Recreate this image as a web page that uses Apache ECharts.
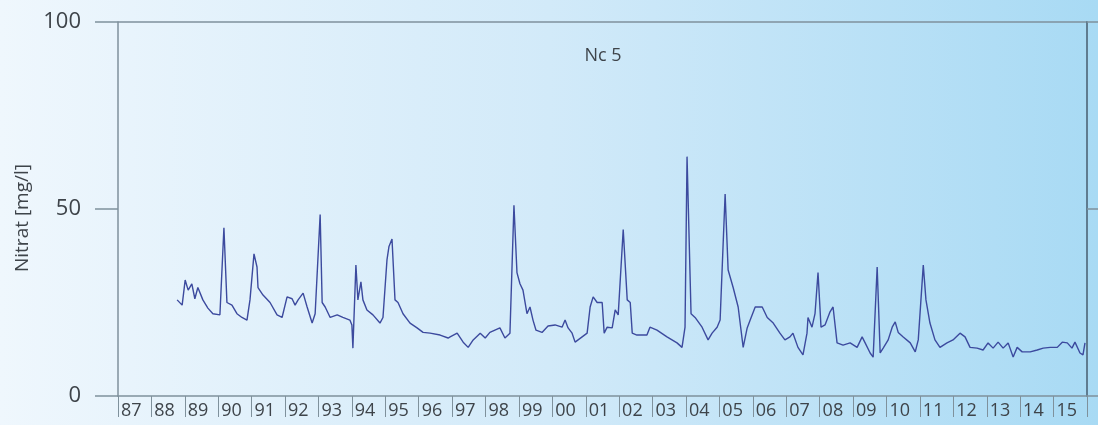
<!DOCTYPE html>
<html>
<head>
<meta charset="utf-8">
<script src="https://cdn.jsdelivr.net/npm/echarts@6/dist/echarts.min.js"></script>
<style>
  html, body { margin: 0; padding: 0; }
  #chart { width: 1098px; height: 425px; }
</style>
</head>
<body>
<div id="chart"></div>
<script>
// Measuring point and axis texts
const stationName = 'Nc 5';
const yAxisTitle = 'Nitrat [mg/l]';
const yearLabels = ['87','88','89','90','91','92','93','94','95','96','97','98','99','00','01',
                    '02','03','04','05','06','07','08','09','10','11','12','13','14','15'];

// Sampling dates as decimal years
const sampleDates = [
  1988.77,1988.92,1989.01,1989.10,1989.21,1989.30,1989.39,1989.54,1989.69,1989.84,
  1990.05,1990.17,1990.26,1990.41,1990.56,1990.71,1990.86,1990.95,1991.07,1991.16,
  1991.19,1991.34,1991.55,1991.76,1991.91,1992.06,1992.21,1992.30,1992.39,1992.54,
  1992.66,1992.81,1992.90,1993.05,1993.11,1993.20,1993.35,1993.56,1993.73,1993.94,
  1994.00,1994.03,1994.12,1994.18,1994.27,1994.33,1994.45,1994.63,1994.84,1994.93,
  1995.05,1995.11,1995.20,1995.29,1995.38,1995.53,1995.74,1995.95,1996.13,1996.34,
  1996.64,1996.88,1996.94,1997.15,1997.33,1997.48,1997.63,1997.84,1997.99,1998.13,
  1998.28,1998.43,1998.58,1998.73,1998.85,1998.94,1999.03,1999.12,1999.24,1999.33,
  1999.42,1999.51,1999.69,1999.87,2000.08,2000.29,2000.38,2000.47,2000.59,2000.68,
  2000.89,2001.04,2001.13,2001.22,2001.34,2001.49,2001.55,2001.64,2001.79,2001.88,
  2001.97,2002.12,2002.24,2002.33,2002.39,2002.53,2002.83,2002.92,2003.13,2003.43,
  2003.73,2003.88,2003.97,2004.03,2004.15,2004.27,2004.48,2004.66,2004.78,2004.93,
  2005.02,2005.17,2005.26,2005.41,2005.56,2005.71,2005.83,2005.92,2006.07,2006.28,
  2006.43,2006.61,2006.81,2006.96,2007.11,2007.20,2007.35,2007.50,2007.62,2007.65,
  2007.77,2007.86,2007.95,2008.04,2008.16,2008.31,2008.40,2008.52,2008.70,2008.91,
  2009.12,2009.27,2009.36,2009.51,2009.60,2009.72,2009.81,2009.90,2010.05,2010.17,
  2010.26,2010.35,2010.50,2010.71,2010.86,2010.95,2011.10,2011.18,2011.30,2011.45,
  2011.60,2011.81,2011.99,2012.20,2012.35,2012.50,2012.71,2012.89,2013.04,2013.19,
  2013.34,2013.49,2013.64,2013.79,2013.91,2014.06,2014.30,2014.51,2014.69,2014.90,
  2015.11,2015.26,2015.41,2015.55,2015.64,2015.79,2015.88,2015.94
];

// Nitrate concentration in mg/l
const nitrateValues = [
  25.7,24.3,31.0,28.3,30.0,26.0,29.0,25.7,23.5,22.0,
  21.7,45.0,25.0,24.3,22.0,21.0,20.3,25.7,38.0,34.5,
  29.0,27.0,25.0,21.7,21.0,26.5,26.0,24.3,25.7,27.5,
  23.8,19.5,22.0,48.5,25.0,23.8,21.0,21.7,21.0,20.3,
  19.0,12.8,35.0,25.7,30.5,25.7,23.0,21.7,19.5,21.0,
  36.4,40.0,42.0,25.7,25.0,22.0,19.5,18.2,17.0,16.8,
  16.3,15.5,15.8,16.8,14.4,13.0,15.0,16.8,15.5,17.0,
  17.6,18.2,15.5,16.8,51.0,33.0,30.0,28.3,22.0,23.8,
  20.3,17.6,17.0,18.7,19.0,18.4,20.3,18.2,16.8,14.4,
  15.8,16.8,23.8,26.5,25.0,25.0,16.8,18.4,18.2,23.0,
  21.7,44.5,25.7,25.0,16.8,16.3,16.3,18.4,17.6,15.8,
  14.2,13.0,18.4,64.0,22.0,21.0,18.4,15.0,16.8,18.4,
  20.3,54.0,33.7,29.0,23.8,13.0,18.2,20.3,23.8,23.8,
  21.0,19.5,16.8,15.0,15.8,16.8,13.0,11.0,16.8,21.0,
  18.4,22.0,33.0,18.4,19.0,22.5,23.8,14.2,13.6,14.2,
  13.0,15.8,14.2,11.5,10.4,34.5,11.5,12.8,15.0,18.4,
  19.8,17.0,15.8,14.2,11.8,15.0,35.0,25.7,19.5,15.0,
  13.0,14.2,15.0,16.8,15.8,13.0,12.8,12.3,14.2,12.8,
  14.4,12.8,14.2,10.4,13.0,11.8,11.8,12.3,12.8,13.0,
  13.0,14.4,14.2,12.8,14.4,11.5,11.0,14.2
];

const textColor = '#3e444a';
const axisColor = '#7f919c';
const fontFamily = '"Open Sans", "Noto Sans", sans-serif';

const chart = echarts.init(document.getElementById('chart'), null, { renderer: 'canvas' });

chart.setOption({
  animation: false,
  backgroundColor: new echarts.graphic.LinearGradient(0, 0, 1, 0, [
    { offset: 0, color: '#eff7fd' },
    { offset: 0.5, color: '#d2eaf9' },
    { offset: 1, color: '#a8daf4' }
  ]),
  title: {
    text: stationName,
    left: 598,
    top: 42,
    textAlign: 'center',
    textStyle: { color: textColor, fontSize: 18, fontWeight: 'normal', fontFamily }
  },
  grid: { left: 118, right: 11, top: 22, bottom: 29, containLabel: false },
  xAxis: [
    {
      type: 'value',
      min: 1987,
      max: 2016,
      show: false
    },
    {
      type: 'category',
      position: 'bottom',
      data: yearLabels,
      boundaryGap: true,
      axisLine: { show: true, lineStyle: { color: axisColor, width: 1.5 } },
      axisTick: { show: true, interval: 0, length: 21, lineStyle: { color: axisColor, width: 1 } },
      axisLabel: {
        interval: 0, color: textColor, fontSize: 18, margin: 6,
        padding: [0, 7, 0, 0], fontFamily
      },
      splitLine: { show: false }
    }
  ],
  yAxis: [
    {
      type: 'value',
      min: 0,
      max: 100,
      interval: 50,
      name: yAxisTitle,
      nameLocation: 'middle',
      nameGap: 80,
      nameTextStyle: { color: textColor, fontSize: 19, fontFamily, padding: [0, 18, 0, 0] },
      axisLine: { show: true, lineStyle: { color: axisColor, width: 1.5 } },
      axisTick: { show: true, length: 23, lineStyle: { color: axisColor, width: 1.5 } },
      axisLabel: { color: textColor, fontSize: 22, margin: 37, fontFamily },
      splitLine: {
        show: true,
        lineStyle: { color: ['transparent', 'transparent', axisColor], width: 1.5 }
      }
    },
    {
      type: 'value',
      min: 0,
      max: 100,
      interval: 50,
      position: 'right',
      axisLine: { show: true, lineStyle: { color: '#5f7c90', width: 2 } },
      axisTick: { show: true, length: 11, lineStyle: { color: axisColor, width: 1.5 } },
      axisLabel: { show: false },
      splitLine: { show: false }
    }
  ],
  series: [
    {
      type: 'line',
      xAxisIndex: 0,
      yAxisIndex: 0,
      data: sampleDates.map((d, i) => [d, nitrateValues[i]]),
      showSymbol: false,
      lineStyle: { color: '#3c4a9e', width: 1.4 }
    }
  ]
});
</script>
</body>
</html>
